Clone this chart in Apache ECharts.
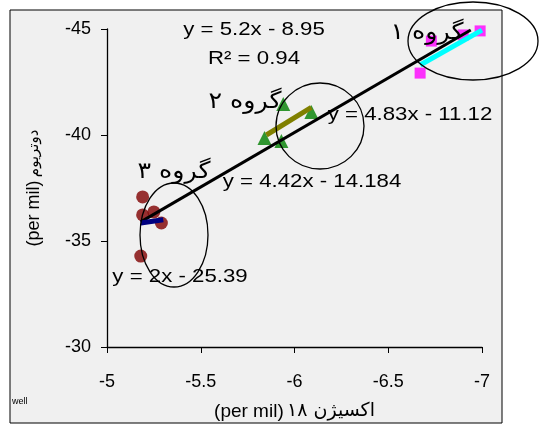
<!doctype html>
<html>
 <head>
  <meta charset="UTF-8">
  <script src="https://cdn.jsdelivr.net/npm/echarts@6/dist/echarts.min.js"></script>
  <title>اکسیژن ۱۸ - دوتریوم</title>
  <style>
   html, body { margin: 0; padding: 0; background: #fff; }
  </style>
 </head>
 <script type="text/javascript">
    // group 1 (magenta squares)
    var g1X = [-6.99, -6.90, -6.73, -6.67];
    var g1Y = [-44.91, -44.72, -44.43, -42.92];
    // group 2 (green triangles)
    var g2X = [-5.94, -6.09, -5.84, -5.93];
    var g2Y = [-41.46, -41.08, -39.86, -39.72];
    // group 3 (dark red circles)
    var g3X = [-5.19, -5.19, -5.25, -5.29, -5.18];
    var g3Y = [-37.08, -36.23, -36.37, -35.85, -34.29];
    // trend lines, end points
    var fitAllX = [-5.18, -6.94];
    var fitAllY = [-35.9, -44.95];
    var fit1X = [-6.67, -7.0];
    var fit1Y = [-43.3, -44.95];
    var fit2X = [-5.85, -6.09];
    var fit2Y = [-40.0, -41.3];
    var fit3X = [-5.18, -5.30];
    var fit3Y = [-35.85, -36.0];

    var FONT = '"Liberation Sans", Arial, "DejaVu Sans", sans-serif';
    var FA_FONT = '"DejaVu Sans", "Noto Sans", sans-serif';

    function pairs(xs, ys) {
      var out = [];
      for (var i = 0; i < xs.length; i++) out.push([xs[i], ys[i]]);
      return out;
    }

    function lineSeries(xs, ys, color, width) {
      return {
        type: 'line', data: pairs(xs, ys), symbol: 'none', z: 3,
        lineStyle: { color: color, width: width }, silent: true
      };
    }

    // the original labels are a bit wider than Arial, hence scaleX
    function label(text, x, y, size, family, sx) {
      return {
        type: 'text', x: x, y: y, z: 10, silent: true, scaleX: sx || 1.17,
        style: { text: text, fontSize: size, fontFamily: family || FONT, fill: '#000',
                 align: 'center', verticalAlign: 'middle' }
      };
    }

    function ring(cx, cy, rx, ry) {
      return {
        type: 'ellipse', z: 9, silent: true,
        shape: { cx: cx, cy: cy, rx: rx, ry: ry },
        style: { fill: 'none', stroke: '#000', lineWidth: 1.3 }
      };
    }

    var loadData = function() {
      var myChart = echarts.init(document.getElementById('chart'));
      myChart.setOption({
        animation: false,
        backgroundColor: '#fff',
        grid: { left: 107, right: 58, top: 29, bottom: 85 },
        xAxis: {
          type: 'value', min: -7, max: -5, interval: 0.5, inverse: true,
          name: '{p|(per mil)} {f|۱۸ اکسیژن}', nameLocation: 'middle', nameGap: 55,
          nameTextStyle: {
            rich: {
              p: { fontSize: 19, fontFamily: FONT, color: '#000' },
              f: { fontSize: 19, fontFamily: FA_FONT, color: '#000' }
            }
          },
          axisLine: { onZero: false, lineStyle: { color: '#000', width: 1.3 } },
          axisTick: { length: 6, lineStyle: { color: '#000' } },
          axisLabel: { fontSize: 18, fontFamily: FONT, color: '#000', margin: 26 },
          splitLine: { show: false }
        },
        yAxis: {
          type: 'value', min: -45, max: -30, interval: 5, inverse: true,
          name: '{p|(per mil)} {f|دوتریوم}', nameLocation: 'middle', nameGap: 64,
          nameTextStyle: {
            rich: {
              p: { fontSize: 18, fontFamily: FONT, color: '#000' },
              f: { fontSize: 15, fontFamily: FA_FONT, color: '#000' }
            }
          },
          axisLine: { onZero: false, lineStyle: { color: '#000', width: 1.3 } },
          axisTick: { length: 6, lineStyle: { color: '#000' } },
          axisLabel: { fontSize: 18, fontFamily: FONT, color: '#000', margin: 16 },
          splitLine: { show: false }
        },
        graphic: [
          {
            type: 'rect', z: -10, silent: true,
            shape: { x: 10, y: 10, width: 492, height: 413 },
            style: { fill: '#f0f0f0', stroke: '#000', lineWidth: 1 }
          },
          label('y = 5.2x - 8.95', 254, 30, 19),
          label('R² = 0.94', 254, 59, 19),
          label('y = 4.83x - 11.12', 410, 115, 19),
          label('y = 4.42x - 14.184', 312, 182, 19),
          label('y = 2x - 25.39', 180, 277, 19),
          label('گروه ۱', 427, 33, 23, FA_FONT, 1.1),
          label('گروه ۲', 245, 102, 23, FA_FONT, 1.1),
          label('گروه ۳', 174, 172, 23, FA_FONT, 1.1),
          {
            type: 'text', x: 12, y: 402, silent: true,
            style: { text: 'well', fontSize: 9, fontFamily: FONT, fill: '#000', verticalAlign: 'middle' }
          },
          ring(473, 41, 65, 39),
          ring(320, 126, 44, 43),
          ring(174, 235, 34, 52)
        ],
        series: [
          {
            type: 'scatter', data: pairs(g1X, g1Y), symbol: 'rect', symbolSize: 11, z: 2,
            itemStyle: { color: '#ff00ff' }
          },
          {
            type: 'scatter', data: pairs(g2X, g2Y), symbol: 'triangle', symbolSize: 14, z: 2,
            itemStyle: { color: '#008000' }
          },
          {
            type: 'scatter', data: pairs(g3X, g3Y), symbol: 'circle', symbolSize: 13, z: 2,
            itemStyle: { color: '#800000' }
          },
          lineSeries(fitAllX, fitAllY, '#000', 3),
          lineSeries(fit1X, fit1Y, '#00ffff', 5),
          lineSeries(fit2X, fit2Y, '#808000', 5),
          lineSeries(fit3X, fit3Y, '#000080', 5)
        ]
      });
    }
 </script>
 <body onload="loadData()">
  <div id="chart" style="height: 432px; width: 540px; margin: 0"></div>
 </body>
</html>
